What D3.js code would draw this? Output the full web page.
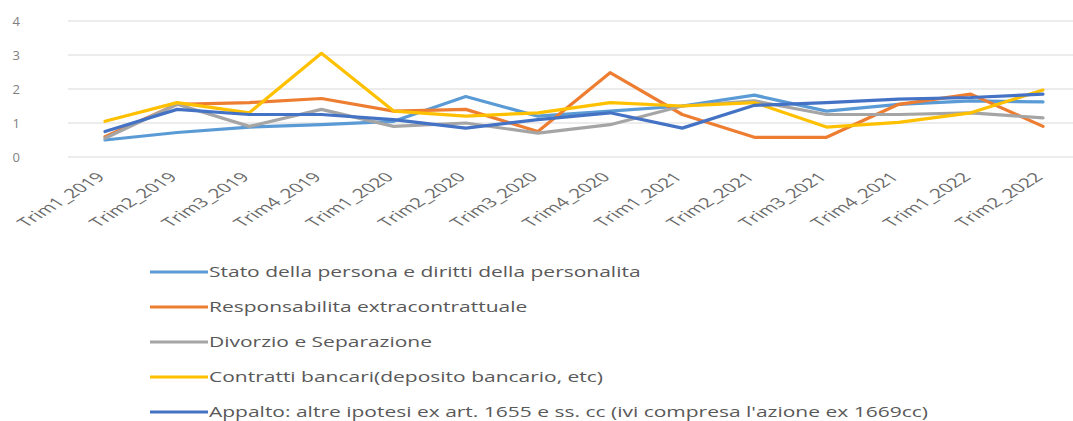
<!DOCTYPE html>
<html><head><meta charset="utf-8">
<script src="https://cdn.jsdelivr.net/npm/d3@7"></script>
<style>
body{margin:0;background:#fff;}
text{font-family:"Open Sans",sans-serif;fill:#595959;}
</style></head>
<body>
<svg id="chart" width="1073" height="421"></svg>
<script>
const categories = ["Trim1_2019","Trim2_2019","Trim3_2019","Trim4_2019","Trim1_2020","Trim2_2020","Trim3_2020","Trim4_2020","Trim1_2021","Trim2_2021","Trim3_2021","Trim4_2021","Trim1_2022","Trim2_2022"];
const seriesNames = [
  "Stato della persona e diritti della personalita",
  "Responsabilita extracontrattuale",
  "Divorzio e Separazione",
  "Contratti bancari(deposito bancario, etc)",
  "Appalto: altre ipotesi ex art. 1655 e ss. cc (ivi compresa l'azione ex 1669cc)"
];
const stato        = [0.50,0.72,0.88,0.95,1.05,1.78,1.20,1.35,1.50,1.82,1.35,1.55,1.65,1.62];
const responsab    = [0.60,1.55,1.60,1.72,1.35,1.40,0.75,2.48,1.25,0.58,0.58,1.55,1.85,0.90];
const divorzio     = [0.55,1.55,0.90,1.40,0.90,1.00,0.70,0.95,1.50,1.65,1.25,1.25,1.30,1.15];
const contratti    = [1.05,1.60,1.30,3.05,1.35,1.20,1.30,1.60,1.50,1.60,0.88,1.02,1.30,1.97];
const appalto      = [0.75,1.40,1.25,1.25,1.10,0.85,1.10,1.30,0.85,1.52,1.60,1.70,1.75,1.85];
const seriesValues = [stato, responsab, divorzio, contratti, appalto];
const colors = ["#5B9BD5","#ED7D31","#A5A5A5","#FFC000","#4472C4"];
const yTicks = [0,1,2,3,4];

const svg = d3.select("#chart");
const x = d3.scalePoint().domain(categories).range([105,1043]);
const y = d3.scaleLinear().domain([0,4]).range([157,21]);

svg.append("g").selectAll("line").data(yTicks).join("line")
  .attr("x1",68).attr("x2",1080)
  .attr("y1",d=>y(d)).attr("y2",d=>y(d))
  .attr("stroke","#d9d9d9").attr("stroke-width",1.2);

svg.append("g").selectAll("text").data(yTicks).join("text")
  .attr("x",20).attr("y",d=>y(d)+5)
  .attr("text-anchor","end").style("font-size","13px").style("fill","#7f7f7f")
  .text(d=>d);

svg.append("g").selectAll("text").data(categories).join("text")
  .attr("transform",d=>`translate(${x(d)+1},178) scale(1.6,1) rotate(-45)`)
  .attr("text-anchor","end").style("font-size","13px").style("fill","#6a6a6a")
  .text(d=>d);

const line = d3.line().x((d,i)=>x(categories[i])).y(d=>y(d));
seriesValues.forEach((vals,k)=>{
  svg.append("path").datum(vals)
    .attr("d",line).attr("fill","none")
    .attr("stroke",colors[k]).attr("stroke-width",3.2)
    .attr("stroke-linejoin","round").attr("stroke-linecap","round");
});

const lg = svg.append("g");
seriesNames.forEach((name,k)=>{
  const yy = 272 + k*35;
  lg.append("line").attr("x1",150).attr("x2",208).attr("y1",yy).attr("y2",yy)
    .attr("stroke",colors[k]).attr("stroke-width",3);
  lg.append("text").attr("transform",`translate(209,${yy+5}) scale(1.5,1)`)
    .style("font-size","14px").text(name);
});
</script>
</body></html>
